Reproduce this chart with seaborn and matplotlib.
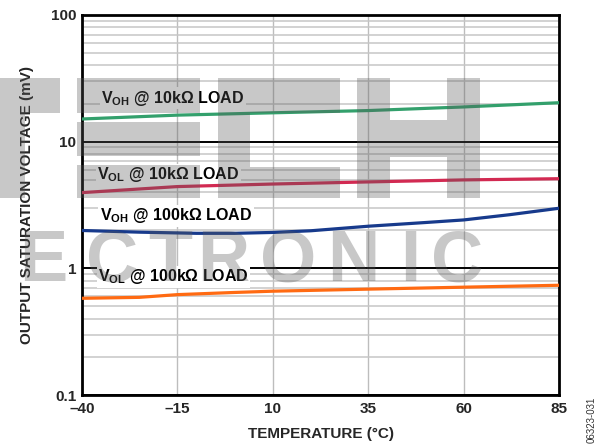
import matplotlib
matplotlib.use("Agg")
import numpy as np
import pandas as pd
import seaborn as sns
import matplotlib.pyplot as plt
from matplotlib.patches import Rectangle
from matplotlib.ticker import FixedLocator, FixedFormatter, LogLocator, NullFormatter

# ---------------- data ----------------
temp_voh_10k = [-40, -15, 10, 35, 60, 85]
voh_10k = [15.1, 16.2, 16.9, 17.6, 18.8, 20.3]

temp_vol_10k = [-40, -15, 10, 35, 60, 85]
vol_10k = [3.96, 4.42, 4.63, 4.81, 4.99, 5.1]

temp_voh_100k = [-40, -25, -10, 0, 10, 20, 35, 50, 60, 72, 85]
voh_100k = [1.99, 1.93, 1.89, 1.89, 1.92, 1.98, 2.15, 2.30, 2.41, 2.65, 2.98]

temp_vol_100k = [-40, -25, -15, 0, 10, 35, 60, 85]
vol_100k = [0.58, 0.59, 0.62, 0.645, 0.66, 0.685, 0.71, 0.735]

series_names = ["VOH 10k", "VOL 10k", "VOH 100k", "VOL 100k"]
series_labels = [r"V$_{\mathbf{OH}}$ @ 10kΩ LOAD",
                 r"V$_{\mathbf{OL}}$ @ 10kΩ LOAD",
                 r"V$_{\mathbf{OH}}$ @ 100kΩ LOAD",
                 r"V$_{\mathbf{OL}}$ @ 100kΩ LOAD"]
label_x = [-35.0, -36.0, -35.3, -35.8]
label_y = [22.1, 5.50, 2.60, 0.855]
series_colors = ["#33a06c", "#d22a52", "#173a8c", "#ff6a12"]

x_ticks = [-40, -15, 10, 35, 60, 85]
x_tick_labels = ["–40", "–15", "10", "35", "60", "85"]
y_ticks = [0.1, 1, 10, 100]
y_tick_labels = ["0.1", "1", "10", "100"]

x_title = "TEMPERATURE (°C)"
y_title = "OUTPUT SATURATION VOLTAGE (mV)"
fig_code = "06323-031"
watermark_word = "ECTRONIC"

# ---------------- build long-form table ----------------
frames = []
for name, t, v in zip(series_names,
                      [temp_voh_10k, temp_vol_10k, temp_voh_100k, temp_vol_100k],
                      [voh_10k, vol_10k, voh_100k, vol_100k]):
    frames.append(pd.DataFrame({"temp": t, "volt": v, "series": name}))
df = pd.concat(frames, ignore_index=True)

# ---------------- styling ----------------
sns.set_theme(style="white")
plt.rcParams["font.family"] = ["Liberation Sans", "DejaVu Sans"]
plt.rcParams["mathtext.fontset"] = "custom"
plt.rcParams["mathtext.rm"] = "Liberation Sans:bold"
plt.rcParams["mathtext.bf"] = "Liberation Sans:bold"
plt.rcParams["mathtext.it"] = "Liberation Sans:bold"

W, H = 604, 448
fig = plt.figure(figsize=(W / 100, H / 100), dpi=100)
fig.patch.set_facecolor("white")
ax = fig.add_axes([82 / W, 1 - 395 / H, (559 - 82) / W, (395 - 15) / H])

sns.lineplot(data=df, x="temp", y="volt", hue="series", hue_order=series_names,
             palette=series_colors, linewidth=2.3, legend=False, ax=ax,
             estimator=None, sort=True, zorder=4)

ax.set_yscale("log")
ax.set_xlim(-40, 85)
ax.set_ylim(0.1, 100)

ax.xaxis.set_major_locator(FixedLocator(x_ticks))
ax.xaxis.set_major_formatter(FixedFormatter(x_tick_labels))
ax.yaxis.set_major_locator(FixedLocator(y_ticks))
ax.yaxis.set_major_formatter(FixedFormatter(y_tick_labels))
ax.yaxis.set_minor_locator(LogLocator(base=10, subs=np.arange(2, 10)))
ax.yaxis.set_minor_formatter(NullFormatter())

ax.tick_params(axis="x", which="both", length=0, labelsize=11, pad=5)
ax.tick_params(axis="y", which="both", length=0, labelsize=11, pad=4)
for lab in ax.get_xticklabels() + ax.get_yticklabels():
    lab.set_fontweight("bold")

ax.grid(False)
ax.yaxis.grid(True, which="minor", color="#c6c6c6", linewidth=1.1, zorder=1)
ax.yaxis.grid(True, which="major", color="black", linewidth=1.4, zorder=2)
ax.xaxis.grid(True, which="major", color="#bdbdbd", linewidth=1.0, zorder=1)
ax.set_axisbelow(True)

for sp in ax.spines.values():
    sp.set_color("black")
    sp.set_linewidth(2.0)

ax.set_xlabel(x_title, fontsize=11, fontweight="bold", labelpad=8)
ax.set_ylabel(y_title, fontsize=11, fontweight="bold", labelpad=12)

for txt, lx, ly in zip(series_labels, label_x, label_y):
    ax.text(lx, ly, txt, fontsize=11.5, fontweight="bold", color="black",
            va="center", ha="left", zorder=3,
            bbox=dict(facecolor="white", edgecolor="none", pad=1.0))

fig.text(592 / W, 1 - 420 / H, fig_code, rotation=90, fontsize=7,
         color="#333333", ha="center", va="center")

# ---------------- watermark (semi-transparent, drawn on top) ----------------
wm_color = (0.35, 0.35, 0.35)
wm_alpha = 0.33
# stylised block logo (pixel boxes: x0, y0, x1, y1 measured from top-left)
logo_blocks = [
    (0, 78, 60, 113), (0, 113, 25, 198),                 # T
    (77, 78, 200, 113), (77, 122, 200, 156), (77, 165, 200, 198),  # E
    (218, 78, 250, 198), (250, 78, 340, 113), (250, 167, 340, 198),  # C
    (357, 78, 390, 198), (447, 78, 480, 198), (390, 120, 447, 157),  # H
]
for x0, y0, x1, y1 in logo_blocks:
    fig.add_artist(Rectangle((x0 / W, 1 - y1 / H), (x1 - x0) / W, (y1 - y0) / H,
                             transform=fig.transFigure, facecolor=wm_color,
                             edgecolor="none", alpha=wm_alpha, zorder=20))
for ch, cx in zip(watermark_word, [43, 112, 170, 223, 288, 353, 410, 457]):
    fig.text(cx / W, 1 - 262 / H, ch, fontsize=52, fontweight="bold",
             color=wm_color, alpha=wm_alpha, ha="center", va="center", zorder=20)

fig.savefig("out.png", dpi=100, facecolor="white")
